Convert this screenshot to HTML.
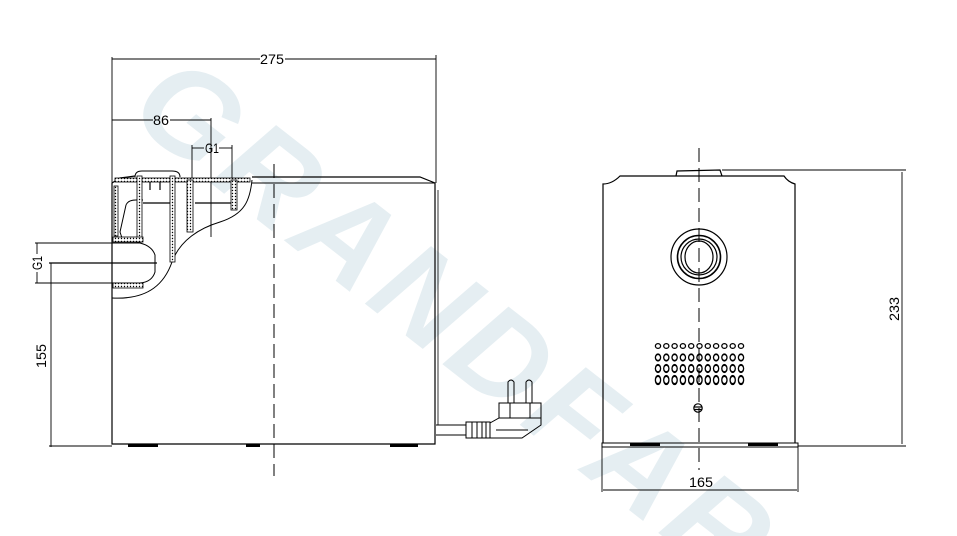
<!DOCTYPE html>
<html><head><meta charset="utf-8"><style>
html,body{margin:0;padding:0;background:#fff;width:957px;height:536px;overflow:hidden;}
svg{display:block;overflow:hidden;}
text{font-family:"Liberation Sans",sans-serif;}
</style></head><body>
<svg width="957" height="536" viewBox="0 0 957 536" xmlns="http://www.w3.org/2000/svg">
<defs>
<pattern id="h" width="3" height="3" patternUnits="userSpaceOnUse">
<rect width="3" height="3" fill="#fff"/><circle cx="1.5" cy="1.5" r="0.7" fill="#000"/>
</pattern>
<clipPath id="cp"><rect x="0" y="0" width="957" height="536"/></clipPath>
</defs>
<g clip-path="url(#cp)">
<g transform="translate(150,85) rotate(38)">
<text x="0" y="40" font-size="125" font-weight="bold" font-style="italic" fill="#e5eef2" letter-spacing="8">GRANDFAR</text>
</g>
</g>
<g fill="none" stroke="#000" stroke-width="1.2">
<path d="M112,183 L112,444 L435,444 L435,183 L420,177 L252,177"/>
<line x1="252" y1="183" x2="435" y2="183" stroke-width="1"/>
<path d="M112,183 L120,178 L135,176"/>
<line x1="438" y1="190" x2="438" y2="425" stroke-width="0.8"/>
<g fill="#000" stroke="none">
<rect x="128" y="444" width="30" height="3"/><rect x="246" y="444" width="14" height="3"/><rect x="390" y="444" width="28" height="3"/>
<rect x="630" y="443" width="30" height="3"/><rect x="748" y="443" width="30" height="3"/>
</g>
<line x1="112" y1="57" x2="112" y2="183" stroke-width="0.9"/>
<line x1="436" y1="55" x2="436" y2="183" stroke-width="0.9"/>
<line x1="112" y1="59" x2="260" y2="59" stroke-width="0.9"/>
<line x1="285" y1="59" x2="436" y2="59" stroke-width="0.9"/>
<line x1="112" y1="120" x2="153" y2="120" stroke-width="0.9"/>
<line x1="170" y1="120" x2="211" y2="120" stroke-width="0.9"/>
<line x1="211" y1="118" x2="211" y2="237" stroke-width="0.9"/>
<line x1="192" y1="145" x2="192" y2="178" stroke-width="0.9"/>
<line x1="232" y1="145" x2="232" y2="178" stroke-width="0.9"/>
<line x1="192" y1="148" x2="204" y2="148" stroke-width="0.9"/>
<line x1="219" y1="148" x2="232" y2="148" stroke-width="0.9"/>
<line x1="274" y1="164" x2="274" y2="476" stroke-dasharray="14,6" stroke-width="1"/>
<line x1="35" y1="243" x2="112" y2="243" stroke-width="0.9"/>
<line x1="35" y1="283" x2="112" y2="283" stroke-width="0.9"/>
<line x1="49" y1="263" x2="157" y2="263" stroke-width="1.2"/>
<line x1="37" y1="243" x2="37" y2="254" stroke-width="0.9"/>
<line x1="37" y1="272" x2="37" y2="283" stroke-width="0.9"/>
<line x1="51" y1="263" x2="51" y2="447" stroke-width="0.9"/>
<line x1="49" y1="446" x2="112" y2="446" stroke-width="0.9"/>
<path d="M112,298 C150,300 165,282 172,262 C180,240 200,228 220,222 C245,214 250,200 252,180" stroke-width="1"/>
<path d="M135,177 Q135,171 142,171 L172,171 Q180,171 180,177" stroke-width="1"/>
<path d="M122,238 L120,232 L126,205 Q128,200 136,200 L143,200" stroke-width="1"/>
<path d="M112,243 L140,243 Q152,246 155,255 L155,272 Q152,282 140,283 L112,283" stroke-width="1"/>
<line x1="143" y1="203" x2="170" y2="203"/>
<line x1="150" y1="178" x2="150" y2="190"/><line x1="160" y1="178" x2="160" y2="190"/>
<line x1="195" y1="203" x2="232" y2="203"/>
</g>
<g fill="url(#h)" stroke="#000" stroke-width="0.8">
<rect x="115" y="178" width="135" height="4"/>
<rect x="137" y="176" width="5" height="66"/>
<rect x="170" y="176" width="5" height="86"/>
<rect x="187" y="180" width="6" height="52"/>
<rect x="231" y="180" width="6" height="30"/>
<rect x="113" y="237" width="30" height="5"/>
<rect x="113" y="283" width="30" height="5"/>
<rect x="114" y="186" width="4" height="50"/>
</g>
<g fill="none" stroke="#000" stroke-width="1">
<line x1="436" y1="425" x2="466" y2="425"/><line x1="436" y1="435" x2="466" y2="435"/>
<rect x="466" y="422" width="24" height="16"/>
<line x1="472" y1="422" x2="472" y2="438"/><line x1="477" y1="422" x2="477" y2="438"/><line x1="482" y1="422" x2="482" y2="438"/><line x1="486" y1="422" x2="486" y2="438"/>
<rect x="499" y="403" width="42" height="15"/>
<line x1="510" y1="403" x2="510" y2="418"/><line x1="530" y1="403" x2="530" y2="418"/>
<path d="M508,403 L508,382 Q511,378 514,382 L514,403"/>
<path d="M526,403 L526,382 Q529,378 532,382 L532,403"/>
<path d="M499,418 L541,418 L541,425 L522,438 L490,438 L490,423 Z"/>
<line x1="496" y1="430" x2="528" y2="430"/>
</g>
<g fill="none" stroke="#000" stroke-width="1.2">
<path d="M603,443 L603,184 Q612,184 620,176 L784,176 Q788,182 795,184 L795,443"/>
<path d="M676,176 L677,171 L720,170 L722,176"/>
<rect x="602" y="443" width="196" height="4" stroke-width="1"/>
<line x1="699" y1="148" x2="699" y2="470" stroke-dasharray="14,6" stroke-width="1"/>
<circle cx="699" cy="257" r="28"/>
<circle cx="699" cy="257" r="21.5" stroke-width="1.6"/>
<circle cx="699" cy="257" r="18"/>
<ellipse cx="699" cy="257" rx="14" ry="16"/>
<line x1="722" y1="170" x2="906" y2="170" stroke-width="0.9"/>
<line x1="798" y1="446" x2="906" y2="446" stroke-width="0.9"/>
<line x1="902" y1="172" x2="902" y2="444" stroke-width="0.9"/>
<line x1="602" y1="447" x2="602" y2="492" stroke-width="0.9"/>
<line x1="798" y1="447" x2="798" y2="492" stroke-width="0.9"/>
<line x1="603" y1="490" x2="797" y2="490" stroke-width="0.9"/>
<circle cx="698" cy="408" r="4.2"/><line x1="694" y1="407" x2="702" y2="407"/><line x1="694" y1="409.5" x2="702" y2="409.5"/>
</g>
<g fill="none" stroke="#000" stroke-width="1.3">
<g id="r1"><ellipse cx="658" cy="346" rx="2.6" ry="2.4"/><ellipse cx="666.3" cy="346" rx="2.6" ry="2.4"/><ellipse cx="674.6" cy="346" rx="2.6" ry="2.4"/><ellipse cx="682.9" cy="346" rx="2.6" ry="2.4"/><ellipse cx="691.2" cy="346" rx="2.6" ry="2.4"/><ellipse cx="699.5" cy="346" rx="2.6" ry="2.4"/><ellipse cx="707.8" cy="346" rx="2.6" ry="2.4"/><ellipse cx="716.1" cy="346" rx="2.6" ry="2.4"/><ellipse cx="724.4" cy="346" rx="2.6" ry="2.4"/><ellipse cx="732.7" cy="346" rx="2.6" ry="2.4"/><ellipse cx="741" cy="346" rx="2.6" ry="2.4"/></g>
<g transform="translate(0,11.5) translate(0,346) scale(1,1.35) translate(0,-346)"><use href="#r1"/></g>
<g transform="translate(0,22.5) translate(0,346) scale(1,1.5) translate(0,-346)"><use href="#r1"/></g>
<g transform="translate(0,34) translate(0,346) scale(1,1.7) translate(0,-346)"><use href="#r1"/></g>
</g>
<g font-size="14" fill="#000" text-anchor="middle">
<text x="272" y="64" textLength="24" lengthAdjust="spacingAndGlyphs">275</text>
<text x="161" y="125" textLength="16" lengthAdjust="spacingAndGlyphs">86</text>
<text x="212" y="153" textLength="14" lengthAdjust="spacingAndGlyphs">G1</text>
<text x="701" y="487" textLength="24" lengthAdjust="spacingAndGlyphs">165</text>
<text transform="translate(42,263) rotate(-90)" textLength="14" lengthAdjust="spacingAndGlyphs">G1</text>
<text transform="translate(46,356) rotate(-90)" textLength="24" lengthAdjust="spacingAndGlyphs">155</text>
<text transform="translate(899,309) rotate(-90)" textLength="24" lengthAdjust="spacingAndGlyphs">233</text>
</g>
</svg>
</body></html>
